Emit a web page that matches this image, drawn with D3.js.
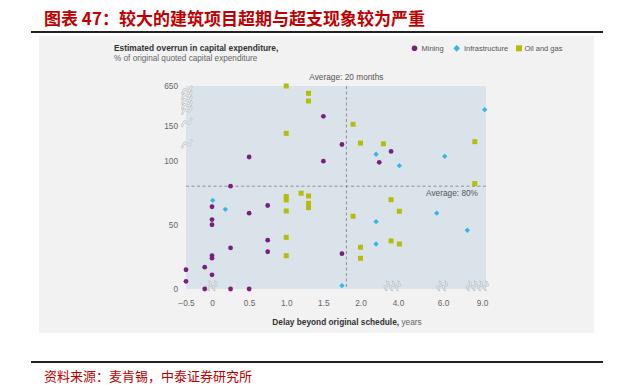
<!DOCTYPE html>
<html>
<head>
<meta charset="utf-8">
<script src="https://cdn.jsdelivr.net/npm/d3@7"></script>
<style>
  body { margin: 0; background: #fff; }
  svg { display: block; }
</style>
</head>
<body>
<script>
// delay (years) vs. capex overrun (%)
var xTicks = [-0.5, 0, 0.5, 1.0, 1.5, 2.0, 4.0, 6.0, 9.0];
var yTicks = [0, 50, 100, 150, 650];

var mining = [
  [0.25, 80], [0.5, 105], [0.75, 65], [0, 64], [0.5, 59], [0, 54], [0, 50],
  [0.75, 38], [0.25, 32], [0.75, 29], [0, 26], [0, 24], [-0.5, 15], [-0.14, 17],
  [0, 11], [-0.5, 6], [-0.14, 0], [0.25, 0], [0.5, 0],
  [1.5, 268], [1.75, 123], [3.63, 113], [1.5, 99.5], [3.0, 98.6], [1.75, 27.5]
];
var infrastructure = [
  [0.01, 69], [0.18, 62], [2.83, 109], [4.06, 96], [6.13, 106], [9.2, 352],
  [2.83, 52.4], [5.72, 59], [7.87, 45.7], [2.83, 35], [1.75, 2.6]
];
var oilAndGas = [
  [1.0, 650], [1.0, 139], [1.3, 558], [1.3, 461], [1.9, 168], [2.0, 125],
  [3.22, 124], [8.44, 127], [8.44, 82], [1.0, 72], [1.0, 69.3], [1.2, 74.5],
  [1.3, 72.4], [1.3, 66.7], [1.3, 63.3], [1.0, 60.7], [1.9, 56.6], [3.63, 69.5],
  [4.06, 60.5], [1.0, 40.2], [3.63, 37.4], [4.06, 35], [2.0, 32.5], [1.0, 25.9],
  [2.0, 23.9]
];
var avgDelay = 1.81, avgOverrun = 80;

// axis breaks: [value, number of marks]
var xBreaks = [[-0.02, 2], [3.65, 3], [5.93, 2], [8.57, 4]];
var yBreaks = [[124, 1], [190, 1], [470, 5]];

var W = 621, H = 385;
var C = { mining: "#7a1f80", infra: "#33b7e8", oil: "#b4bd0a" };
var font = "'Liberation Sans', Arial, sans-serif";
var cjk = "'Noto Sans CJK SC', sans-serif";

var svg = d3.select("body").append("svg").attr("width", W).attr("height", H);

// header
svg.append("text").attr("x", 44).attr("y", 25)
  .style("font-family", cjk).style("font-weight", "bold").style("font-size", "17px")
  .attr("fill", "#c00000").text("图表 47：较大的建筑项目超期与超支现象较为严重");
svg.append("line").attr("x1", 31).attr("x2", 603).attr("y1", 32).attr("y2", 32)
  .attr("stroke", "#222").attr("stroke-width", 2);

svg.append("rect").attr("x", 39).attr("y", 36).attr("width", 555).attr("height", 297)
  .attr("fill", "#f2f2f2");

var x = d3.scaleLinear().domain([-0.5, 0, 2, 4, 6, 9.3]).range([186, 212, 360.5, 398, 443, 486]);
var y = d3.scaleLinear().domain([0, 100, 150, 650]).range([289, 160.5, 125.7, 86]);

svg.append("rect").attr("x", x(-0.5)).attr("y", y(650))
  .attr("width", x(9.3) - x(-0.5)).attr("height", y(0) - y(650))
  .attr("fill", "#dbe3ea");

// y title
svg.append("text").attr("x", 114).attr("y", 51)
  .style("font-family", font).style("font-size", "8.4px").style("font-weight", "bold")
  .attr("fill", "#333").text("Estimated overrun in capital expenditure,");
svg.append("text").attr("x", 114).attr("y", 61)
  .style("font-family", font).style("font-size", "8.2px")
  .attr("fill", "#666").text("% of original quoted capital expenditure");

// legend
var lg = svg.append("g").style("font-family", font).style("font-size", "7.5px").attr("fill", "#555");
lg.append("circle").attr("cx", 414.5).attr("cy", 48.3).attr("r", 2.8).attr("fill", C.mining);
lg.append("text").attr("x", 421.5).attr("y", 51).text("Mining");
lg.append("rect").attr("x", -2.4).attr("y", -2.4).attr("width", 4.8).attr("height", 4.8)
  .attr("transform", "translate(456.7,48.3) rotate(45)").attr("fill", C.infra);
lg.append("text").attr("x", 464).attr("y", 51).text("Infrastructure");
lg.append("rect").attr("x", 516).attr("y", 45.3).attr("width", 6).attr("height", 6).attr("fill", C.oil);
lg.append("text").attr("x", 524.5).attr("y", 51).text("Oil and gas");

// axes
svg.append("g").attr("transform", "translate(0," + y(0) + ")")
  .call(d3.axisBottom(x).tickValues(xTicks).tickSize(0).tickPadding(11)
    .tickFormat(d => d === 0 ? "0" : d3.format(".1f")(d)))
  .call(g => g.select(".domain").remove())
  .call(g => g.selectAll("text").style("font-family", font).style("font-size", "8.3px").attr("fill", "#666"));

svg.append("g").attr("transform", "translate(" + x(-0.5) + ",0)")
  .call(d3.axisLeft(y).tickValues(yTicks).tickSize(0).tickPadding(8))
  .call(g => g.select(".domain").remove())
  .call(g => g.selectAll("text").style("font-family", font).style("font-size", "8.3px").attr("fill", "#666"));

// x title
var xt = svg.append("text").attr("x", 347).attr("y", 325).attr("text-anchor", "middle")
  .style("font-family", font).style("font-size", "8.3px").attr("fill", "#333");
xt.append("tspan").style("font-weight", "bold").text("Delay beyond original schedule,");
xt.append("tspan").attr("fill", "#666").text(" years");

// averages
svg.append("line").attr("x1", x(avgDelay)).attr("x2", x(avgDelay)).attr("y1", y(650)).attr("y2", y(0))
  .attr("stroke", "#8a9096").attr("stroke-dasharray", "3,2.5");
svg.append("line").attr("x1", x(-0.5)).attr("x2", x(9.3)).attr("y1", y(avgOverrun)).attr("y2", y(avgOverrun))
  .attr("stroke", "#8a9096").attr("stroke-dasharray", "3,2.5");
svg.append("text").attr("x", x(avgDelay)).attr("y", 80).attr("text-anchor", "middle")
  .style("font-family", font).style("font-size", "8.3px").attr("fill", "#555")
  .text("Average: 20 months");
svg.append("text").attr("x", 478).attr("y", 196).attr("text-anchor", "end")
  .style("font-family", font).style("font-size", "8.3px").attr("fill", "#555")
  .text("Average: 80%");

// break marks
function zig(w, h, gap) {
  var a = [[-w, h], [-w / 3, -h], [w / 3, h], [w, -h]];
  var b = a.map(p => [p[0], p[1] + gap]).reverse();
  return "M" + a.concat(b).map(p => p.join(",")).join("L") + "Z";
}
var brk = svg.append("g").attr("fill", "#f2f2f2").attr("stroke", "#b3b8bd").attr("stroke-width", 0.6);
yBreaks.forEach(function(b) {
  for (var i = 0; i < b[1]; i++) {
    brk.append("path").attr("d", zig(6, 1.8, 2.2))
      .attr("transform", "translate(" + (x(-0.5) + 0.5) + "," + (y(b[0]) - (b[1] - 1) * 2.5 + i * 5 - 1) + ") rotate(-20)");
  }
});
xBreaks.forEach(function(b) {
  for (var i = 0; i < b[1]; i++) {
    brk.append("path").attr("d", zig(4.5, 1.5, 2))
      .attr("transform", "translate(" + (x(b[0]) - (b[1] - 1) * 2.8 + i * 5.6) + "," + (y(0) - 3.5) + ") rotate(-65)");
  }
});

// points
var pts = svg.append("g");
pts.selectAll(".mining").data(mining).enter().append("circle")
  .attr("cx", d => x(d[0])).attr("cy", d => y(d[1])).attr("r", 2.4).attr("fill", C.mining);
pts.selectAll(".infra").data(infrastructure).enter().append("rect")
  .attr("x", -1.9).attr("y", -1.9).attr("width", 3.8).attr("height", 3.8)
  .attr("transform", d => "translate(" + x(d[0]) + "," + y(d[1]) + ") rotate(45)")
  .attr("fill", C.infra);
pts.selectAll(".oil").data(oilAndGas).enter().append("rect")
  .attr("x", d => x(d[0]) - 2.5).attr("y", d => y(d[1]) - 2.5)
  .attr("width", 5).attr("height", 5).attr("fill", C.oil);

// footer
svg.append("line").attr("x1", 31).attr("x2", 603).attr("y1", 362).attr("y2", 362)
  .attr("stroke", "#222").attr("stroke-width", 2);
svg.append("text").attr("x", 44).attr("y", 381)
  .style("font-family", cjk).style("font-size", "13px")
  .attr("fill", "#c00000").text("资料来源：麦肯锡，中泰证券研究所");
</script>
</body>
</html>
